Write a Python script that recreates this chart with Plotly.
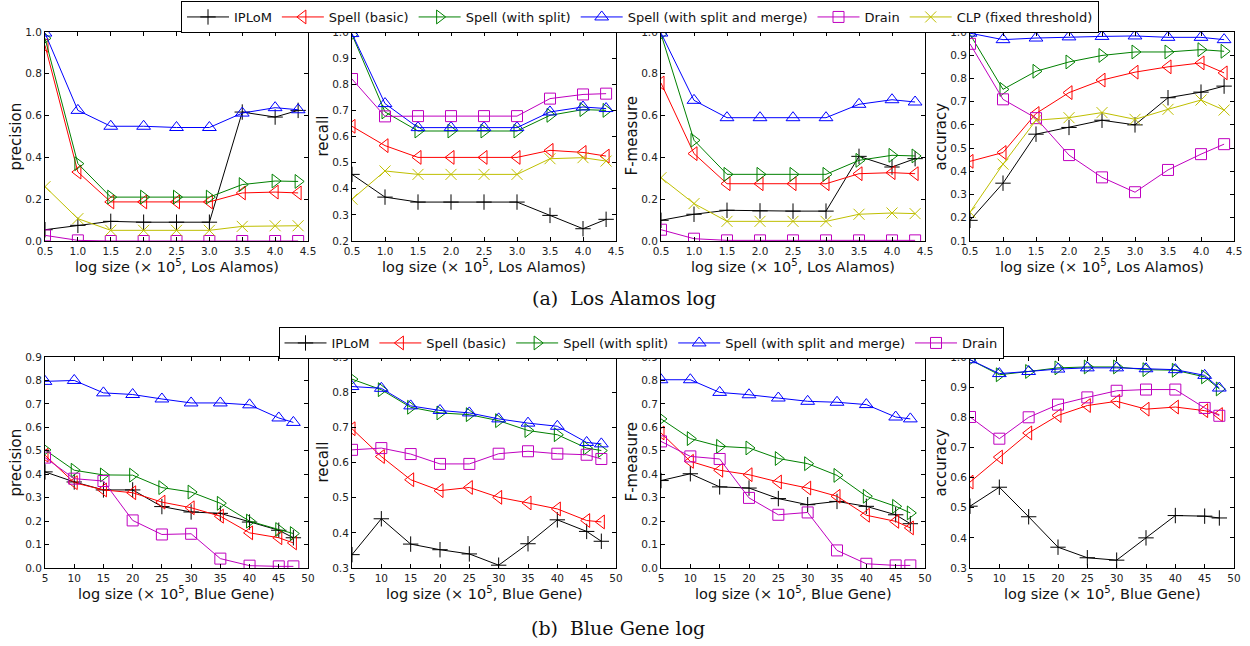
import plotly.graph_objects as go

# ---------------- data ----------------
la_x = [0.5, 1.0, 1.5, 2.0, 2.5, 3.0, 3.5, 4.0, 4.35]
bg_x = [5, 10, 15, 20, 25, 30, 35, 40, 45, 47.5]

methods = ["IPLoM", "Spell (basic)", "Spell (with split)",
           "Spell (with split and merge)", "Drain", "CLP (fixed threshold)"]

# Los Alamos
la_prec_iplom = [0.054, 0.075, 0.094, 0.09, 0.09, 0.09, 0.617, 0.593, 0.625]
la_prec_basic = [0.936, 0.33, 0.187, 0.187, 0.187, 0.187, 0.23, 0.234, 0.23]
la_prec_split = [0.97, 0.37, 0.21, 0.21, 0.21, 0.21, 0.27, 0.287, 0.285]
la_prec_merge = [0.995, 0.625, 0.549, 0.549, 0.543, 0.543, 0.612, 0.638, 0.628]
la_prec_drain = [0.027, 0.003, 0.0, 0.0, 0.0, 0.0, 0.0, 0.0, 0.0]
la_prec_clp = [0.26, 0.107, 0.051, 0.051, 0.051, 0.051, 0.07, 0.073, 0.073]

la_rec_iplom = [0.455, 0.368, 0.349, 0.349, 0.349, 0.349, 0.298, 0.247, 0.283]
la_rec_basic = [0.639, 0.565, 0.52, 0.52, 0.52, 0.52, 0.547, 0.539, 0.525]
la_rec_split = [0.99, 0.694, 0.621, 0.621, 0.621, 0.621, 0.681, 0.703, 0.70]
la_rec_merge = [0.994, 0.726, 0.634, 0.634, 0.634, 0.634, 0.694, 0.713, 0.707]
la_rec_drain = [0.82, 0.677, 0.678, 0.678, 0.678, 0.678, 0.745, 0.761, 0.764]
la_rec_clp = [0.36, 0.468, 0.455, 0.455, 0.455, 0.455, 0.515, 0.519, 0.506]

la_f_iplom = [0.099, 0.128, 0.147, 0.144, 0.143, 0.143, 0.405, 0.354, 0.394]
la_f_basic = [0.756, 0.418, 0.274, 0.274, 0.274, 0.274, 0.322, 0.327, 0.322]
la_f_split = [0.99, 0.482, 0.319, 0.319, 0.319, 0.319, 0.386, 0.41, 0.407]
la_f_merge = [0.995, 0.673, 0.59, 0.59, 0.59, 0.59, 0.654, 0.676, 0.665]
la_f_drain = [0.054, 0.011, 0.003, 0.003, 0.003, 0.003, 0.003, 0.003, 0.003]
la_f_clp = [0.303, 0.179, 0.094, 0.094, 0.094, 0.094, 0.128, 0.134, 0.131]

la_acc_iplom = [0.189, 0.349, 0.56, 0.589, 0.62, 0.60, 0.717, 0.741, 0.767]
la_acc_basic = [0.443, 0.481, 0.649, 0.739, 0.793, 0.827, 0.85, 0.867, 0.824]
la_acc_split = [0.99, 0.753, 0.831, 0.871, 0.899, 0.914, 0.914, 0.924, 0.917]
la_acc_merge = [0.995, 0.967, 0.974, 0.979, 0.981, 0.983, 0.977, 0.977, 0.967]
la_acc_drain = [0.949, 0.71, 0.629, 0.47, 0.374, 0.31, 0.406, 0.474, 0.517]
la_acc_clp = [0.224, 0.431, 0.62, 0.631, 0.653, 0.624, 0.667, 0.707, 0.664]

# Blue Gene
bg_prec_iplom = [0.41, 0.367, 0.333, 0.333, 0.262, 0.239, 0.233, 0.196, 0.161, 0.129]
bg_prec_basic = [0.481, 0.364, 0.333, 0.321, 0.281, 0.257, 0.221, 0.15, 0.129, 0.107]
bg_prec_split = [0.504, 0.417, 0.397, 0.396, 0.343, 0.324, 0.276, 0.2, 0.164, 0.147]
bg_prec_merge = [0.796, 0.80, 0.747, 0.74, 0.721, 0.704, 0.704, 0.696, 0.64, 0.621]
bg_prec_drain = [0.471, 0.381, 0.371, 0.203, 0.143, 0.146, 0.04, 0.01, 0.007, 0.007]

bg_rec_iplom = [0.338, 0.44, 0.368, 0.352, 0.34, 0.308, 0.369, 0.437, 0.404, 0.376]
bg_rec_basic = [0.696, 0.617, 0.551, 0.52, 0.529, 0.501, 0.485, 0.468, 0.435, 0.431]
bg_rec_split = [0.837, 0.807, 0.757, 0.741, 0.736, 0.719, 0.691, 0.679, 0.641, 0.634]
bg_rec_merge = [0.816, 0.811, 0.761, 0.748, 0.741, 0.724, 0.712, 0.703, 0.657, 0.653]
bg_rec_drain = [0.636, 0.641, 0.624, 0.596, 0.596, 0.625, 0.632, 0.625, 0.622, 0.61]

bg_f_iplom = [0.373, 0.402, 0.346, 0.341, 0.296, 0.27, 0.284, 0.263, 0.227, 0.189]
bg_f_basic = [0.576, 0.455, 0.417, 0.398, 0.367, 0.341, 0.306, 0.225, 0.199, 0.171]
bg_f_split = [0.636, 0.552, 0.519, 0.512, 0.467, 0.445, 0.395, 0.306, 0.263, 0.235]
bg_f_merge = [0.803, 0.803, 0.749, 0.739, 0.725, 0.711, 0.707, 0.697, 0.644, 0.636]
bg_f_drain = [0.54, 0.476, 0.465, 0.299, 0.227, 0.237, 0.075, 0.018, 0.011, 0.011]

bg_acc_iplom = [0.505, 0.568, 0.47, 0.369, 0.334, 0.326, 0.40, 0.474, 0.472, 0.466]
bg_acc_basic = [0.585, 0.668, 0.748, 0.806, 0.839, 0.853, 0.827, 0.834, 0.822, 0.809]
bg_acc_split = [0.991, 0.941, 0.952, 0.964, 0.967, 0.967, 0.958, 0.956, 0.934, 0.894]
bg_acc_merge = [0.991, 0.945, 0.952, 0.96, 0.964, 0.964, 0.961, 0.958, 0.939, 0.897]
bg_acc_drain = [0.801, 0.729, 0.80, 0.842, 0.866, 0.888, 0.892, 0.892, 0.831, 0.805]

y_titles = ["precision", "recall", "F-measure", "accuracy"]
la_xlabel = "log size (× 10<sup>5</sup>, Los Alamos)"
bg_xlabel = "log size (× 10<sup>5</sup>, Blue Gene)"
captions = ["(a)  Los Alamos log", "(b)  Blue Gene log"]

# ---------------- styling ----------------
colors = ["#000000", "#ff0000", "#008000", "#0000ff", "#bf00bf", "#bfbf00"]
symbols = ["cross-thin-open", "triangle-left-open", "triangle-right-open",
           "triangle-up-open", "square-open", "x-thin-open"]
msizes = [11, 12, 12, 12, 11, 11]

W, H = 1250, 646
cols_px = [(45, 308), (352, 616), (661, 925), (970, 1234)]
rows_px = [(32, 241), (357, 568)]
xtitle_y = [266, 593]

la_series = [
    [la_prec_iplom, la_prec_basic, la_prec_split, la_prec_merge, la_prec_drain, la_prec_clp],
    [la_rec_iplom, la_rec_basic, la_rec_split, la_rec_merge, la_rec_drain, la_rec_clp],
    [la_f_iplom, la_f_basic, la_f_split, la_f_merge, la_f_drain, la_f_clp],
    [la_acc_iplom, la_acc_basic, la_acc_split, la_acc_merge, la_acc_drain, la_acc_clp],
]
bg_series = [
    [bg_prec_iplom, bg_prec_basic, bg_prec_split, bg_prec_merge, bg_prec_drain],
    [bg_rec_iplom, bg_rec_basic, bg_rec_split, bg_rec_merge, bg_rec_drain],
    [bg_f_iplom, bg_f_basic, bg_f_split, bg_f_merge, bg_f_drain],
    [bg_acc_iplom, bg_acc_basic, bg_acc_split, bg_acc_merge, bg_acc_drain],
]
la_yranges = [(0, 1.0, 0.2), (0.2, 1.0, 0.1), (0, 1.0, 0.2), (0.1, 1.0, 0.1)]
bg_yranges = [(0, 0.9, 0.1), (0.3, 0.9, 0.1), (0, 0.9, 0.1), (0.3, 1.0, 0.1)]

fig = go.Figure()
font = "DejaVu Sans, Arial, sans-serif"
layout = {}
annotations = []

def add_panel(idx, row, col, xs, series, yr, xr, xdt, xlabel, ytitle, legend_name, show_legend):
    xa = "xaxis" if idx == 1 else f"xaxis{idx}"
    ya = "yaxis" if idx == 1 else f"yaxis{idx}"
    xref = "x" if idx == 1 else f"x{idx}"
    yref = "y" if idx == 1 else f"y{idx}"
    for k, ys in enumerate(series):
        fig.add_trace(go.Scatter(
            x=xs, y=ys, mode="lines+markers", name=methods[k],
            line=dict(color=colors[k], width=1),
            marker=dict(symbol=symbols[k], size=msizes[k], color=colors[k],
                        line=dict(color=colors[k], width=1)),
            xaxis=xref, yaxis=yref, legend=legend_name, showlegend=show_legend))
    x0, x1 = cols_px[col]
    y0, y1 = rows_px[row]
    common = dict(showline=True, linecolor="black", linewidth=1, mirror="allticks",
                  ticks="inside", ticklen=4, tickcolor="black", showgrid=False,
                  zeroline=False, automargin=False,
                  tickfont=dict(size=10.5, color="#222", family=font))
    layout[xa] = dict(domain=[x0 / W, x1 / W], range=list(xr), dtick=xdt, tick0=xr[0],
                      anchor=yref, tickformat=".1f" if xdt < 1 else "d", **common)
    layout[ya] = dict(domain=[1 - y1 / H, 1 - y0 / H], range=[yr[0], yr[1]], dtick=yr[2], tick0=yr[0],
                      anchor=xref, tickformat=".1f", **common)
    annotations.append(dict(text=xlabel, x=(x0 + x1) / 2 / W, y=1 - xtitle_y[row] / H,
                            xref="paper", yref="paper", xanchor="center", yanchor="middle",
                            showarrow=False, font=dict(size=14.5, family=font, color="#111")))
    annotations.append(dict(text=ytitle, x=(x0 - 30) / W, y=1 - (y0 + y1) / 2 / H,
                            xref="paper", yref="paper", xanchor="center", yanchor="middle",
                            textangle=-90, showarrow=False,
                            font=dict(size=15, family=font, color="#111")))

idx = 1
for c in range(4):
    add_panel(idx, 0, c, la_x, la_series[c], la_yranges[c], (0.5, 4.5), 0.5, la_xlabel,
              y_titles[c], "legend", c == 0)
    idx += 1
for c in range(4):
    add_panel(idx, 1, c, bg_x, bg_series[c], bg_yranges[c], (5, 50), 5, bg_xlabel,
              y_titles[c], "legend2", c == 0)
    idx += 1

legend_common = dict(orientation="h", bordercolor="black", borderwidth=1, bgcolor="white",
                     font=dict(size=13, family=font, color="#111"), xanchor="center",
                     yanchor="top", itemwidth=42, tracegroupgap=0)

annotations.append(dict(text=captions[0], x=624 / W, y=1 - 298 / H, xref="paper", yref="paper",
                        xanchor="center", yanchor="middle", showarrow=False,
                        font=dict(size=19, family="DejaVu Serif, serif", color="#111")))
annotations.append(dict(text=captions[1], x=618 / W, y=1 - 628 / H, xref="paper", yref="paper",
                        xanchor="center", yanchor="middle", showarrow=False,
                        font=dict(size=19, family="DejaVu Serif, serif", color="#111")))

fig.update_layout(
    width=W, height=H, margin=dict(l=0, r=0, t=0, b=0, autoexpand=False),
    paper_bgcolor="white", plot_bgcolor="white",
    legend=dict(x=640 / W, y=1 - 1 / H, **legend_common),
    legend2=dict(x=641 / W, y=1 - 327 / H, **legend_common),
    annotations=annotations,
    **layout,
)

fig.write_html("out.html", config={"displayModeBar": False},
               post_script="document.body.style.margin='0';document.body.style.padding='0';")
